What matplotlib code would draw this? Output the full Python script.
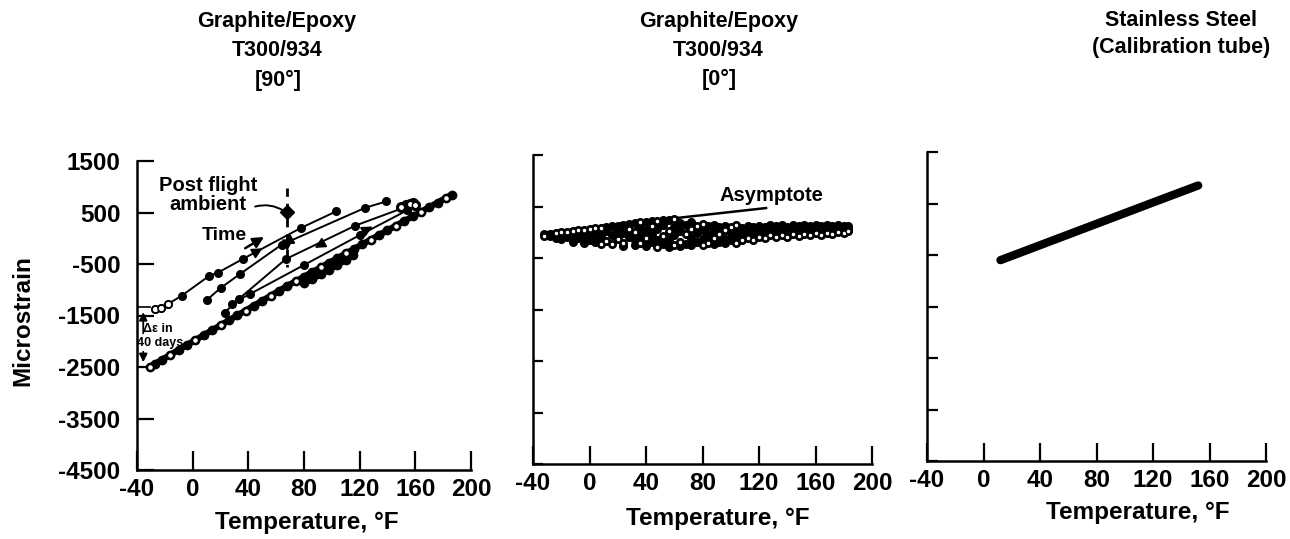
import matplotlib
matplotlib.use("Agg")
import matplotlib.pyplot as plt

plt.rcParams['font.family'] = ['Liberation Sans', 'DejaVu Sans']
plt.rcParams['font.weight'] = 'bold'

# ---------------- data ----------------
x_ticks = [-40, 0, 40, 80, 120, 160, 200]
y_ticks = [-4500, -3500, -2500, -1500, -500, 500, 1500]
y_tick_labels = ['-4500', '-3500', '-2500', '-1500', '-500', '500', '1500']

# left panel: graphite/epoxy [90]
main_T = [-31, -27, -22, -16, -10, -4, 2, 8, 14, 20, 26, 32, 38, 44, 50, 56, 62, 68,
          74, 80, 86, 92, 98, 104, 110, 116, 122, 128, 134, 140, 146, 152, 158, 164,
          170, 176, 182, 186]
main_v = [-2500, -2436, -2357, -2261, -2166, -2070, -1975, -1880, -1785, -1689, -1594,
          -1498, -1403, -1308, -1212, -1117, -1021, -926, -836, -746, -656, -566, -476,
          -386, -296, -206, -116, -26, 64, 154, 244, 334, 424, 514, 604, 694, 784, 844]

lineA_T = [-27, -23, -18, -8, 12, 18, 36, 78, 103]
lineA_v = [-1380, -1346, -1280, -1118, -728, -670, -403, 203, 520]
lineB_T = [10, 20, 34, 64, 124, 139]
lineB_v = [-1203, -968, -695, -124, 592, 714]
lineC_T = [23, 33, 67, 117, 156]
lineC_v = [-1443, -1183, -403, 247, 636]
lineD_T = [28, 41, 80, 120, 154]
lineD_v = [-1270, -1085, -520, 60, 540]
lineF_T = [80, 86, 92, 98, 104, 110, 115]
lineF_v = [-870, -790, -700, -610, -520, -420, -330]
cluster_T = [150, 153, 156, 158, 160]
cluster_v = [600, 640, 660, 675, 650]
postflight_T = 68
postflight_v = 506

# middle panel: graphite/epoxy [0]
mid_T = [-32, -28, -24, -20, -16, -12, -8, -4, 0, 4, 8, 12, 16, 20, 24, 28, 32, 36, 40,
         44, 48, 52, 56, 60, 64, 68, 72, 76, 80, 84, 88, 92, 96, 100, 104, 108, 112,
         116, 120, 124, 128, 132, 136, 140, 144, 148, 152, 156, 160, 164, 168, 172,
         176, 180, 183]
mid_v = [[-40, -80], [-30, -70], [-10, -60, -110], [0, -50, -140], [10, -40, -100],
         [30, -30, -180], [40, -20, -120], [50, -60, -210], [70, -10, -150],
         [80, -40, -180], [90, 0, -100, -230], [110, 20, -170], [120, -60, -220],
         [130, 30, -130], [150, -20, -200, -260], [160, 60, -100], [170, 10, -150, -250],
         [190, 90, -50, -210], [200, 40, -120, -270], [210, 120, -30, -190],
         [225, 60, -160, -280], [235, 150, -80, -230], [245, 20, -150, -290],
         [255, 110, -60, -240], [180, 30, -180, -260], [150, -40, -220],
         [190, 60, -120, -250], [130, -10, -190], [160, 40, -130, -250],
         [120, -60, -210], [150, 20, -110, -230], [100, -30, -180],
         [130, 50, -130, -210], [110, -20, -160], [140, 30, -100, -200],
         [90, -50, -150], [125, 10, -110], [100, -40, -160], [130, 40, -90],
         [110, -20, -120], [140, 60, -60], [120, 0, -100], [135, 50, -60],
         [110, -10, -90], [140, 70, -40], [120, 20, -70], [135, 60, -30],
         [125, 10, -60], [140, 70, -20], [120, 30, -50], [140, 80, -10],
         [125, 40, -30], [140, 90, 10], [125, 50, -10], [115, 60, 20]]
asym_T = [-32, 125]
asym_v = [-10, 470]

# right panel: stainless steel
ss_T = [12, 40, 80, 120, 152]
ss_v = [-600, -310, 105, 520, 850]

# ---------------- figure ----------------
W, H = 1290, 539
fig = plt.figure(figsize=(W / 100, H / 100), dpi=100)


def px_axes(x0, x1, ytop, ybot):
    return fig.add_axes([x0 / W, (H - ybot) / H, (x1 - x0) / W, (ybot - ytop) / H])


axL = px_axes(137, 471, 161, 470)
axM = px_axes(533, 872, 155, 464)
axR = px_axes(927, 1266, 152, 461)

for ax, ylen, xlen in [(axL, 12, 14), (axM, 7.5, 13), (axR, 8, 13)]:
    ax.set_xlim(-40, 200)
    ax.set_ylim(-4500, 1500)
    ax.set_xticks(x_ticks)
    ax.set_xticklabels([str(t) for t in x_ticks], fontsize=17.5, fontweight='bold')
    ax.set_yticks(y_ticks)
    for s in ['top', 'right']:
        ax.spines[s].set_visible(False)
    for s in ['left', 'bottom']:
        ax.spines[s].set_linewidth(1.8)
    ax.tick_params(axis='x', direction='in', length=xlen, width=1.6, pad=6)
    ax.tick_params(axis='y', direction='in', length=ylen, width=1.6, pad=12)
    ax.set_facecolor('white')

axL.set_yticklabels(y_tick_labels, fontsize=17.5, fontweight='bold')
axM.set_yticklabels([])
axR.set_yticklabels([])

# ---- left panel ----
axL.plot(main_T, main_v, color='black', lw=4.5, solid_capstyle='round', zorder=3)
axL.plot(main_T, main_v, 'o', color='black', ms=6, zorder=4)
axL.plot(main_T[::3], main_v[::3], 'o', mfc='white', mec='black', ms=4.5, mew=1.2, zorder=5)
for T, v in [(lineA_T, lineA_v), (lineB_T, lineB_v), (lineC_T, lineC_v), (lineD_T, lineD_v)]:
    axL.plot(T, v, color='black', lw=1.4, marker='o', ms=5.5, zorder=3)
axL.plot(lineA_T[:3], lineA_v[:3], 'o', mfc='white', mec='black', ms=5, mew=1.2, zorder=5)
axL.plot(lineF_T, lineF_v, color='black', lw=4.5, marker='o', ms=6, solid_capstyle='round', zorder=3)
axL.plot(cluster_T, cluster_v, 'o', color='black', ms=7, zorder=4)
axL.plot(cluster_T[::2], cluster_v[::2], 'o', mfc='white', mec='black', ms=4.5, zorder=5)

# post flight ambient
axL.plot([postflight_T, postflight_T], [980, -560], color='black', lw=2, ls=(0, (3, 2.5)), zorder=4)
axL.plot([postflight_T], [postflight_v], 'D', color='black', ms=7, zorder=5)
axL.text(11, 840, 'Post flight\nambient', ha='center', va='center', fontsize=14.5,
         fontweight='bold', linespacing=1.0)
axL.annotate('', xy=(postflight_T - 1, postflight_v), xytext=(43, 600),
             arrowprops=dict(arrowstyle='-', lw=1.4, color='black',
                             connectionstyle='arc3,rad=-0.25'))
axL.text(39, 60, 'Time', ha='right', va='center', fontsize=14, fontweight='bold')
axL.annotate('', xy=(53, 52), xytext=(36, -221),
             arrowprops=dict(arrowstyle='-|>', lw=1.8, color='black', mutation_scale=16))
# direction arrows along lines
for (x0, y0, x1, y1) in [(44, -290, 52, -168), (70, -40, 63, -145), (94, -90, 86, -215),
                         (124, 150, 131, 255), (68, -120, 68, -300)]:
    axL.annotate('', xy=(x1, y1), xytext=(x0, y0),
                 arrowprops=dict(arrowstyle='-|>', lw=1.2, color='black', mutation_scale=16))

# delta epsilon annotation
axL.annotate('', xy=(-35.5, -1380), xytext=(-35.5, -1900),
             arrowprops=dict(arrowstyle='-|>', lw=1.3, color='black', mutation_scale=12))
axL.annotate('', xy=(-35.5, -2460), xytext=(-35.5, -2150),
             arrowprops=dict(arrowstyle='-|>', lw=1.3, color='black', mutation_scale=12))
axL.plot([-40, -31], [-1340, -1340], color='black', lw=1.2)
axL.text(-36, -1760, 'Δε in', ha='left', va='center', fontsize=9, fontweight='bold')
axL.text(-40, -2030, '40 days', ha='left', va='center', fontsize=9, fontweight='bold')

# ---- middle panel ----
mx, my = [], []
for T, vals in zip(mid_T, mid_v):
    for v in vals:
        mx.append(T)
        my.append(v)
axM.plot(asym_T, asym_v, color='black', lw=1.8, zorder=3)
axM.plot(mx, my, 'o', color='black', ms=5.5, zorder=4)
axM.plot(mx[1::3], my[1::3], 'o', mfc='white', mec='black', ms=3.5, mew=0.9, zorder=5)
axM.text(129, 712, 'Asymptote', ha='center', va='center', fontsize=14.5, fontweight='bold')

# ---- right panel ----
axR.plot(ss_T, ss_v, color='black', lw=6, solid_capstyle='round', zorder=3)

# ---- figure texts ----
def ftext(x, y, s, **kw):
    fig.text(x / W, 1 - y / H, s, ha='center', va='center', fontweight='bold', **kw)


ftext(277, 22, 'Graphite/Epoxy', fontsize=15.5)
ftext(277, 51, 'T300/934', fontsize=15.5)
ftext(278, 80, '[90°]', fontsize=15.5)
ftext(719, 22, 'Graphite/Epoxy', fontsize=15.5)
ftext(718, 50, 'T300/934', fontsize=15.5)
ftext(719, 79, '[0°]', fontsize=15.5)
ftext(1181, 20, 'Stainless Steel', fontsize=15.5)
ftext(1181, 48, '(Calibration tube)', fontsize=15.5)

ftext(307, 522, 'Temperature, °F', fontsize=17.5)
ftext(718, 518, 'Temperature, °F', fontsize=17.5)
ftext(1138, 513, 'Temperature, °F', fontsize=17.5)
ftext(23, 321, 'Microstrain', fontsize=17.5, rotation=90)

fig.savefig('out.png', dpi=100, facecolor='white')
